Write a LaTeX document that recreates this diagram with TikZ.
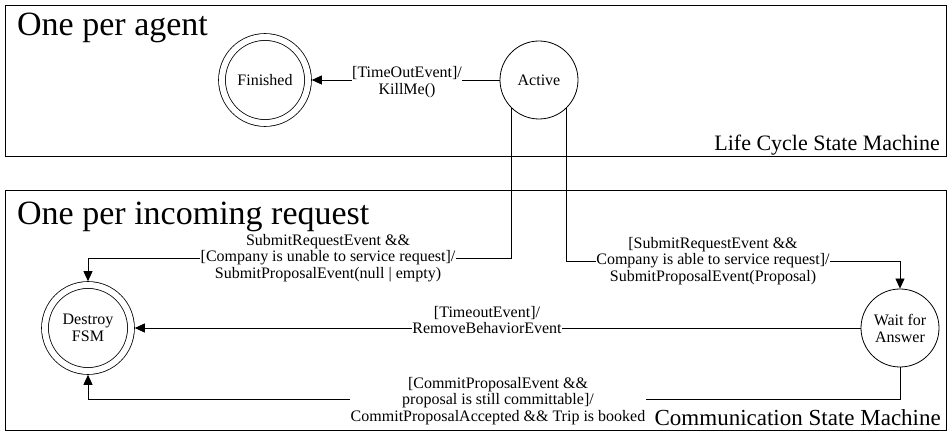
\documentclass[tikz,border=0pt]{standalone}
\usepackage{fontspec}
\setmainfont{Liberation Serif}
\usetikzlibrary{arrows.meta}

\tikzset{
  frame/.style={draw, line width=0.9pt},
  state/.style={circle, draw, line width=0.8pt, minimum size=78pt, inner sep=0pt,
    align=center, font=\fontsize{16}{17}\selectfont},
  finalstate/.style={state, double, double distance=6pt, minimum size=86pt, outer sep=3.8pt},
  trans/.style={line width=0.8pt, -{Triangle[length=10pt,width=9pt]}},
  guard/.style={fill=white, inner sep=0.5pt, align=center,
    font=\fontsize{16}{16.8}\selectfont},
  title/.style={inner sep=0pt, font=\fontsize{34}{36}\selectfont},
  caption/.style={inner sep=0pt, font=\fontsize{22}{24}\selectfont}
}

\begin{document}
\begin{tikzpicture}[x=1pt, y=-1pt]
\useasboundingbox (0,0) rectangle (948,435);

% frames of the two machines
\draw[frame] (5,5) rectangle (946,156);
\draw[frame] (5,190) rectangle (946,430);

\node[title, anchor=base west] (agentTitle) at (17,36) {One per agent};
\node[title, anchor=base west] (requestTitle) at (17,225) {One per incoming request};
\node[caption, anchor=base east] (lifeCaption) at (940,151) {Life Cycle State Machine};
\node[caption, font=\fontsize{23}{25}\selectfont, anchor=base east] (commCaption) at (941,426) {Communication State Machine};

% states
\node[finalstate] (Finished) at (265,80) {Finished};
\node[state] (Active) at (539,80) {Active};
\node[finalstate] (Destroy) at (88,328) {Destroy\\FSM};
\node[state] (Wait) at (900,328) {Wait for\\Answer};

% bend points of the routed connectors
\coordinate (leftRow) at (88,258);
\coordinate (rightRow) at (900,261);
\coordinate (bottomRow) at (88,399);

% transitions
\draw[trans] (Active.west) -- (Finished.east);
\node[guard] (killLbl) at (407,82) {[TimeOutEvent]/\\KillMe()};

\draw[trans] (Active.-135) |- (leftRow) -| (Destroy.north);
\node[guard] (unableLbl) at (328,258) {SubmitRequestEvent \&\&\\{[}Company is unable to service request{]}/\\SubmitProposalEvent(null | empty)};

\draw[trans] (Active.-45) |- (rightRow) -| (Wait.north);
\node[guard] (ableLbl) at (713,261) {{[}SubmitRequestEvent \&\&\\Company is able to service request{]}/\\SubmitProposalEvent(Proposal)};

\draw[trans] (Wait.west) -- (Destroy.east);
\node[guard] (timeoutLbl) at (487,320) {{[}TimeoutEvent{]}/\\RemoveBehaviorEvent};

\draw[trans] (Wait.south) |- (bottomRow) -| (Destroy.south);
\node[guard] (commitLbl) at (498,401) {{[}CommitProposalEvent \&\&\\proposal is still committable{]}/\\CommitProposalAccepted \&\& Trip is booked};
\end{tikzpicture}
\end{document}
